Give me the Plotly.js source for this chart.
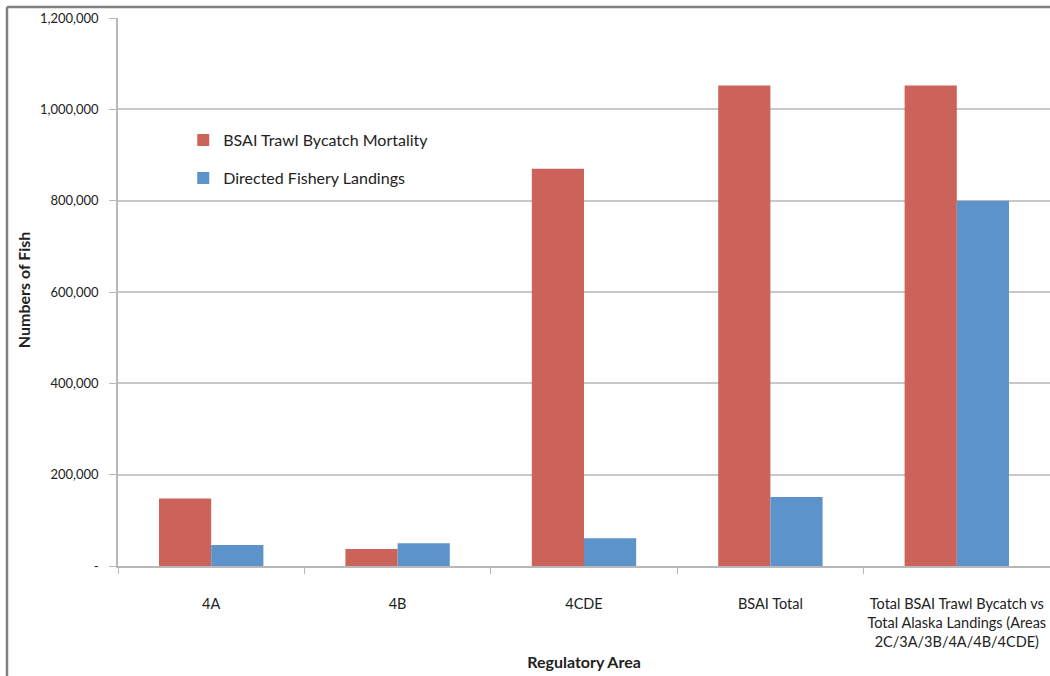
<!DOCTYPE html>
<html>
<head>
<meta charset="utf-8">
<script src="https://cdn.plot.ly/plotly-3.0.1.min.js"></script>
<style>
  html, body { margin: 0; padding: 0; background: #ffffff; }
  #chart { width: 1050px; height: 676px; }
</style>
</head>
<body>
<div id="chart"></div>
<script>
// Data
const categories = [
  "4A",
  "4B",
  "4CDE",
  "BSAI Total",
  "Total BSAI Trawl Bycatch vs<br>Total Alaska Landings (Areas<br>2C/3A/3B/4A/4B/4CDE)"
];
const bycatchMortality = [148000, 37000, 870000, 1052000, 1052000];
const directedLandings = [46000, 50000, 61000, 151000, 800000];
const seriesNames = ["BSAI Trawl Bycatch Mortality", "Directed Fishery Landings"];
const yTickVals = [0, 200000, 400000, 600000, 800000, 1000000, 1200000];
const yTickText = ["-", "200,000", "400,000", "600,000", "800,000", "1,000,000", "1,200,000"];
const yTitle = "Numbers of Fish";
const xTitle = "Regulatory Area";

const FONT = "Lato, 'Open Sans', 'DejaVu Sans', sans-serif";

const traces = [
  {
    type: "bar",
    name: seriesNames[0],
    x: categories,
    y: bycatchMortality,
    marker: { color: "#CB635B" },
    legendgroup: "a",
    hoverinfo: "x+y"
  },
  {
    type: "bar",
    name: seriesNames[1],
    x: categories,
    y: directedLandings,
    marker: { color: "#5D93CB" },
    legendgroup: "b",
    hoverinfo: "x+y"
  }
];

const layout = {
  width: 1050,
  height: 676,
  margin: { l: 118, r: 0, t: 18, b: 110, pad: 0 },
  paper_bgcolor: "#ffffff",
  plot_bgcolor: "#ffffff",
  font: { family: FONT, color: "#222222", size: 13 },
  barmode: "group",
  bargap: 0.44,
  bargroupgap: 0,
  showlegend: true,
  legend: {
    x: 0.07, y: 0.808, xanchor: "left", yanchor: "top",
    bgcolor: "rgba(0,0,0,0)",
    font: { family: FONT, size: 16, color: "#222222" },
    traceorder: "grouped",
    tracegroupgap: 14
  },
  xaxis: {
    type: "category",
    showline: true,
    linecolor: "#b8b8b8",
    linewidth: 1.5,
    ticks: "outside",
    tickson: "boundaries",
    ticklen: 6,
    tickcolor: "#b8b8b8",
    tickangle: 0,
    ticklabelstandoff: 24,
    tickfont: { family: FONT, size: 14.5, color: "#222222" },
    showgrid: false,
    zeroline: false,
    title: { text: "<b>" + xTitle + "</b>", font: { family: FONT, size: 16, color: "#222222" }, standoff: 8 }
  },
  yaxis: {
    range: [0, 1200000],
    tickvals: yTickVals,
    ticktext: yTickText,
    showline: true,
    linecolor: "#b8b8b8",
    linewidth: 1.5,
    ticks: "outside",
    ticklen: 7,
    tickcolor: "#b8b8b8",
    ticklabelstandoff: 8,
    tickfont: { family: FONT, size: 13, color: "#222222" },
    showgrid: true,
    gridcolor: "#c8c8c8",
    gridwidth: 1.5,
    zeroline: false
  },
  annotations: [
    { xref: "paper", yref: "paper", x: -0.102, y: 0.505, xanchor: "center", yanchor: "middle",
      text: "<b>" + yTitle + "</b>", textangle: -90, showarrow: false,
      font: { family: FONT, size: 16, color: "#222222" } }
  ],
  shapes: [
    { type: "line", xref: "paper", yref: "paper", x0: -0.1191, x1: -0.1191, y0: 1.0201, y1: -0.21,
      line: { color: "#808080", width: 2.5 } },
    { type: "line", xref: "paper", yref: "paper", x0: -0.1191, x1: 1.01, y0: 1.0201, y1: 1.0201,
      line: { color: "#808080", width: 2.5 } }
  ]
};

Plotly.newPlot("chart", traces, layout, { displayModeBar: false, responsive: false });
</script>
</body>
</html>
